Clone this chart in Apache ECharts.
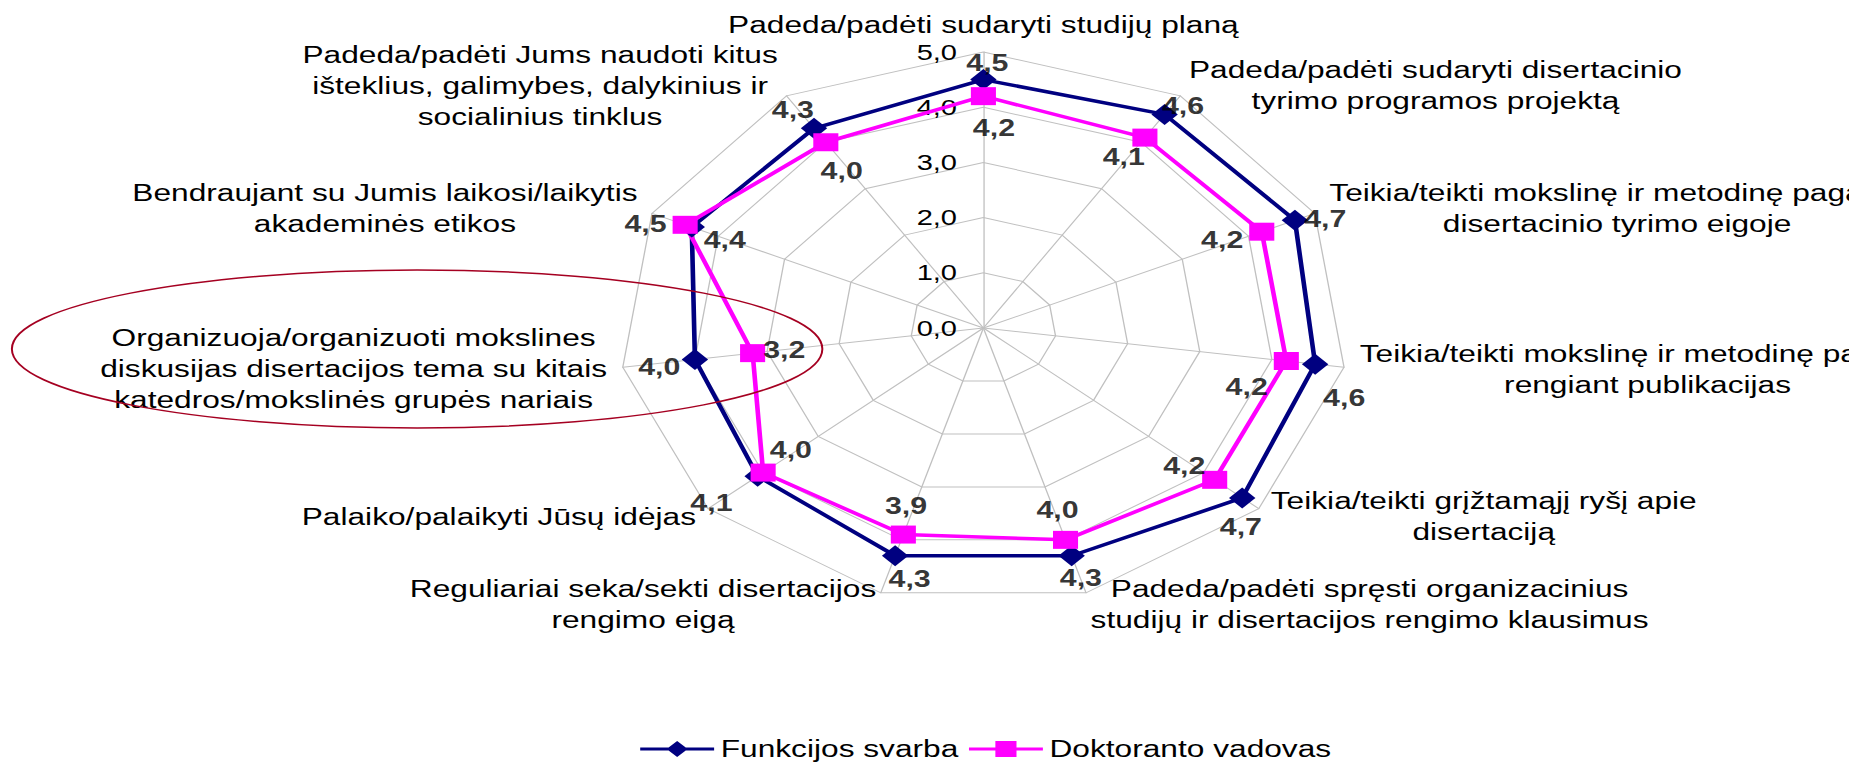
<!DOCTYPE html>
<html>
<head>
<meta charset="utf-8">
<script src="https://cdn.jsdelivr.net/npm/echarts@6/dist/echarts.min.js"></script>
<style>
html, body { margin: 0; padding: 0; background: #fff; overflow: hidden; }
/* the reference picture is a radar chart stretched sideways, so the whole chart is stretched the same way */
#chart { width: 1401px; height: 763px; transform: scaleX(1.32); transform-origin: 0 0; }
</style>
</head>
<body>
<div id="chart"></div>
<script>
// categories, clockwise from the top
const categories = [
  'Padeda/padėti sudaryti studijų planą',
  'Padeda/padėti sudaryti disertacinio\ntyrimo programos projektą',
  'Teikia/teikti mokslinę ir metodinę pagalbą\ndisertacinio tyrimo eigoje',
  'Teikia/teikti mokslinę ir metodinę pagalbą\nrengiant publikacijas',
  'Teikia/teikti grįžtamąjį ryšį apie\ndisertaciją',
  'Padeda/padėti spręsti organizacinius\nstudijų ir disertacijos rengimo klausimus',
  'Reguliariai seka/sekti disertacijos\nrengimo eigą',
  'Palaiko/palaikyti Jūsų idėjas',
  'Organizuoja/organizuoti mokslines\ndiskusijas disertacijos tema su kitais\nkatedros/mokslinės grupės nariais',
  'Bendraujant su Jumis laikosi/laikytis\nakademinės etikos',
  'Padeda/padėti Jums naudoti kitus\ništeklius, galimybes, dalykinius ir\nsocialinius tinklus'
];
const seriesNames = ['Funkcijos svarba', 'Doktoranto vadovas'];
const funkcijosSvarba = [4.5, 4.6, 4.7, 4.6, 4.7, 4.3, 4.3, 4.1, 4.0, 4.4, 4.3];
const doktorantoVadovas = [4.2, 4.1, 4.2, 4.2, 4.2, 4.0, 3.9, 4.0, 3.2, 4.5, 4.0];
const tickLabels = ['0,0', '1,0', '2,0', '3,0', '4,0', '5,0'];

// where each value label sits next to its marker (px)
const labelOffsetF = [[3, -16], [14, -8], [23, -1], [22, 34], [-1, 29], [7, 23], [11, 24], [-35, 27], [-27, 8], [25, 13], [-16, -18]];
const labelOffsetD = [[8, 32], [-16, 20], [-30, 9], [-30, 26], [-23, -14], [-6, -30], [2, -28], [21, -22], [24, -3], [-30, 0], [12, 29]];

const FONT = '"Liberation Sans", Arial, sans-serif';
const BLUE = '#000080';
const PINK = '#ff00ff';
const fmt = v => v.toFixed(1).replace('.', ',');

// echarts radar runs counter-clockwise, the reference runs clockwise
const order = categories.map((c, i) => i === 0 ? 0 : categories.length - i);

const chart = echarts.init(document.getElementById('chart'), null, { renderer: 'svg' });

const labelSeries = (values, offsets) => ({
  type: 'scatter',
  coordinateSystem: 'polar',
  symbolSize: 1,
  silent: true,
  z: 5,
  itemStyle: { color: 'rgba(0,0,0,0)' },
  label: {
    show: true, position: 'inside', color: '#000',
    fontSize: 23, fontWeight: 'bold', fontFamily: FONT,
    formatter: p => fmt(p.value[0])
  },
  data: values.map((v, i) => ({ value: [v, i], label: { offset: offsets[i] } }))
});

chart.setOption({
  animation: false,
  backgroundColor: '#fff',
  textStyle: { fontFamily: FONT },
  legend: {
    left: 480, top: 732,
    itemWidth: 56, itemHeight: 16, itemGap: 8,
    textStyle: { fontSize: 24, color: '#000', fontFamily: FONT },
    data: [
      { name: seriesNames[0], icon: 'path://M0,6.5H56V9.5H0Z M28,0L36,8L28,16L20,8Z' },
      { name: seriesNames[1], icon: 'path://M0,6.5H56V9.5H0Z M20,0H36V16H20Z' }
    ]
  },
  radar: {
    center: [745, 328],
    radius: 276,
    startAngle: 90,
    splitNumber: 5,
    shape: 'polygon',
    axisNameGap: 12,
    axisName: {
      color: '#000', fontSize: 24, fontFamily: FONT,
      formatter: name => name.split('\n').map(s => '{c|' + s + '}').join('\n'),
      rich: { c: { align: 'center', fontSize: 24, lineHeight: 31, color: '#000', fontFamily: FONT } }
    },
    indicator: order.map((k, j) => {
      const ind = { name: categories[k], min: 0, max: 5 };
      if (j === 0) ind.axisLabel = { show: true };
      return ind;
    }),
    axisLine: { lineStyle: { color: '#c0c0c0', width: 1 } },
    splitLine: { lineStyle: { color: '#c0c0c0', width: 1 } },
    splitArea: { show: false },
    axisTick: { show: false },
    axisLabel: {
      show: false, color: '#000', fontSize: 22, fontFamily: FONT, margin: 20,
      formatter: v => tickLabels[Math.round(v)]
    }
  },
  polar: { center: [745, 328], radius: 276 },
  angleAxis: { type: 'value', min: 0, max: categories.length, startAngle: 90, clockwise: true, show: false },
  radiusAxis: { type: 'value', min: 0, max: 5, show: false },
  graphic: [{
    type: 'ellipse',
    shape: { cx: 316, cy: 349, rx: 307, ry: 79 },
    style: { fill: 'none', stroke: '#a50021', lineWidth: 1.5 },
    z: 10
  }],
  series: [
    {
      type: 'radar', name: seriesNames[0],
      symbol: 'diamond', symbolSize: [20, 21],
      lineStyle: { color: BLUE, width: 3.5 },
      itemStyle: { color: BLUE },
      data: [{ name: seriesNames[0], value: order.map(k => funkcijosSvarba[k]) }]
    },
    {
      type: 'radar', name: seriesNames[1],
      symbol: 'rect', symbolSize: [19, 18],
      lineStyle: { color: PINK, width: 3.5 },
      itemStyle: { color: PINK },
      data: [{ name: seriesNames[1], value: order.map(k => doktorantoVadovas[k]) }]
    },
    labelSeries(funkcijosSvarba, labelOffsetF),
    labelSeries(doktorantoVadovas, labelOffsetD)
  ]
});
</script>
</body>
</html>
